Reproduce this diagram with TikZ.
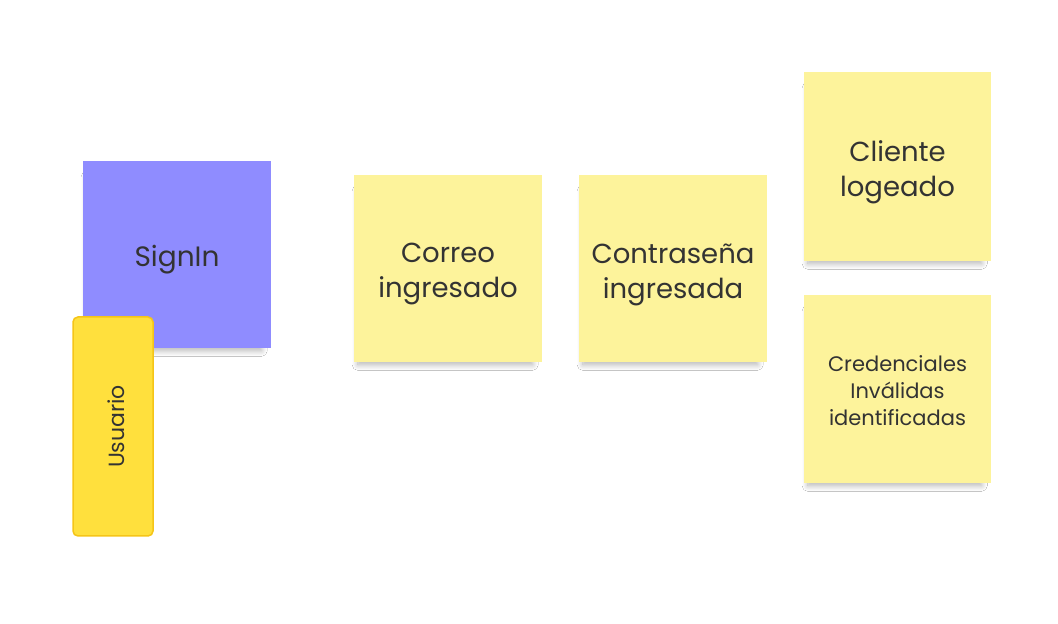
\documentclass[tikz,border=0pt]{standalone}
\usepackage{fontspec}
\setmainfont{Poppins}
\usetikzlibrary{shadows.blur}
\definecolor{sticky}{HTML}{FDF39B}
\definecolor{signin}{HTML}{8F8CFF}
\definecolor{userfill}{HTML}{FFE03D}
\definecolor{userdraw}{HTML}{F5C518}
\definecolor{ink}{HTML}{333333}
\tikzset{
  note/.style={rectangle, fill=sticky, minimum width=188pt, minimum height=187pt, inner sep=0pt,
    blur shadow={shadow xshift=-3pt, shadow yshift=-10pt, shadow scale=0.93, shadow blur steps=14, shadow opacity=30, shadow blur radius=6pt}},
  notetext/.style={align=center, text=ink, inner sep=0pt, font=\fontsize{27.5}{35}\selectfont},
  smalltext/.style={notetext, font=\fontsize{21}{27}\selectfont},
  actor/.style={rectangle, rounded corners=5pt, fill=userfill, draw=userdraw, line width=1.5pt,
    minimum width=80pt, minimum height=219pt, inner sep=0pt}
}
\begin{document}
\begin{tikzpicture}[x=1pt,y=1pt]
\useasboundingbox[fill=white] (0,0) rectangle (1058,624);
\node[note, fill=signin] (signin) at (177,369.5) {};
\node[notetext, font=\fontsize{28}{35}\selectfont] (signintxt) at ([yshift=-5pt]signin.center) {SignIn};
\node[actor] (usuario) at (113,197.5) {};
\node[notetext, rotate=90, font=\fontsize{22}{26}\selectfont] (usuariotxt) at ([xshift=3pt]usuario.center) {Usuario};
\node[note] (correo) at (448,355.5) {};
\node[notetext] (correotxt) at ([yshift=-6pt]correo.center) {Correo\\ingresado};
\node[note] (contra) at (673,355.5) {};
\node[notetext] (contratxt) at ([yshift=-6pt]contra.center) {Contraseña\\ingresada};
\node[note, minimum width=187pt, minimum height=189pt] (cliente) at (897.5,457.5) {};
\node[notetext] (clientetxt) at ([yshift=-6pt]cliente.center) {Cliente\\logeado};
\node[note, minimum width=187pt, minimum height=188pt] (cred) at (897.5,235) {};
\node[smalltext] (credtxt) at ([yshift=-2pt]cred.center) {Credenciales\\Inválidas\\identificadas};
\end{tikzpicture}
\end{document}
